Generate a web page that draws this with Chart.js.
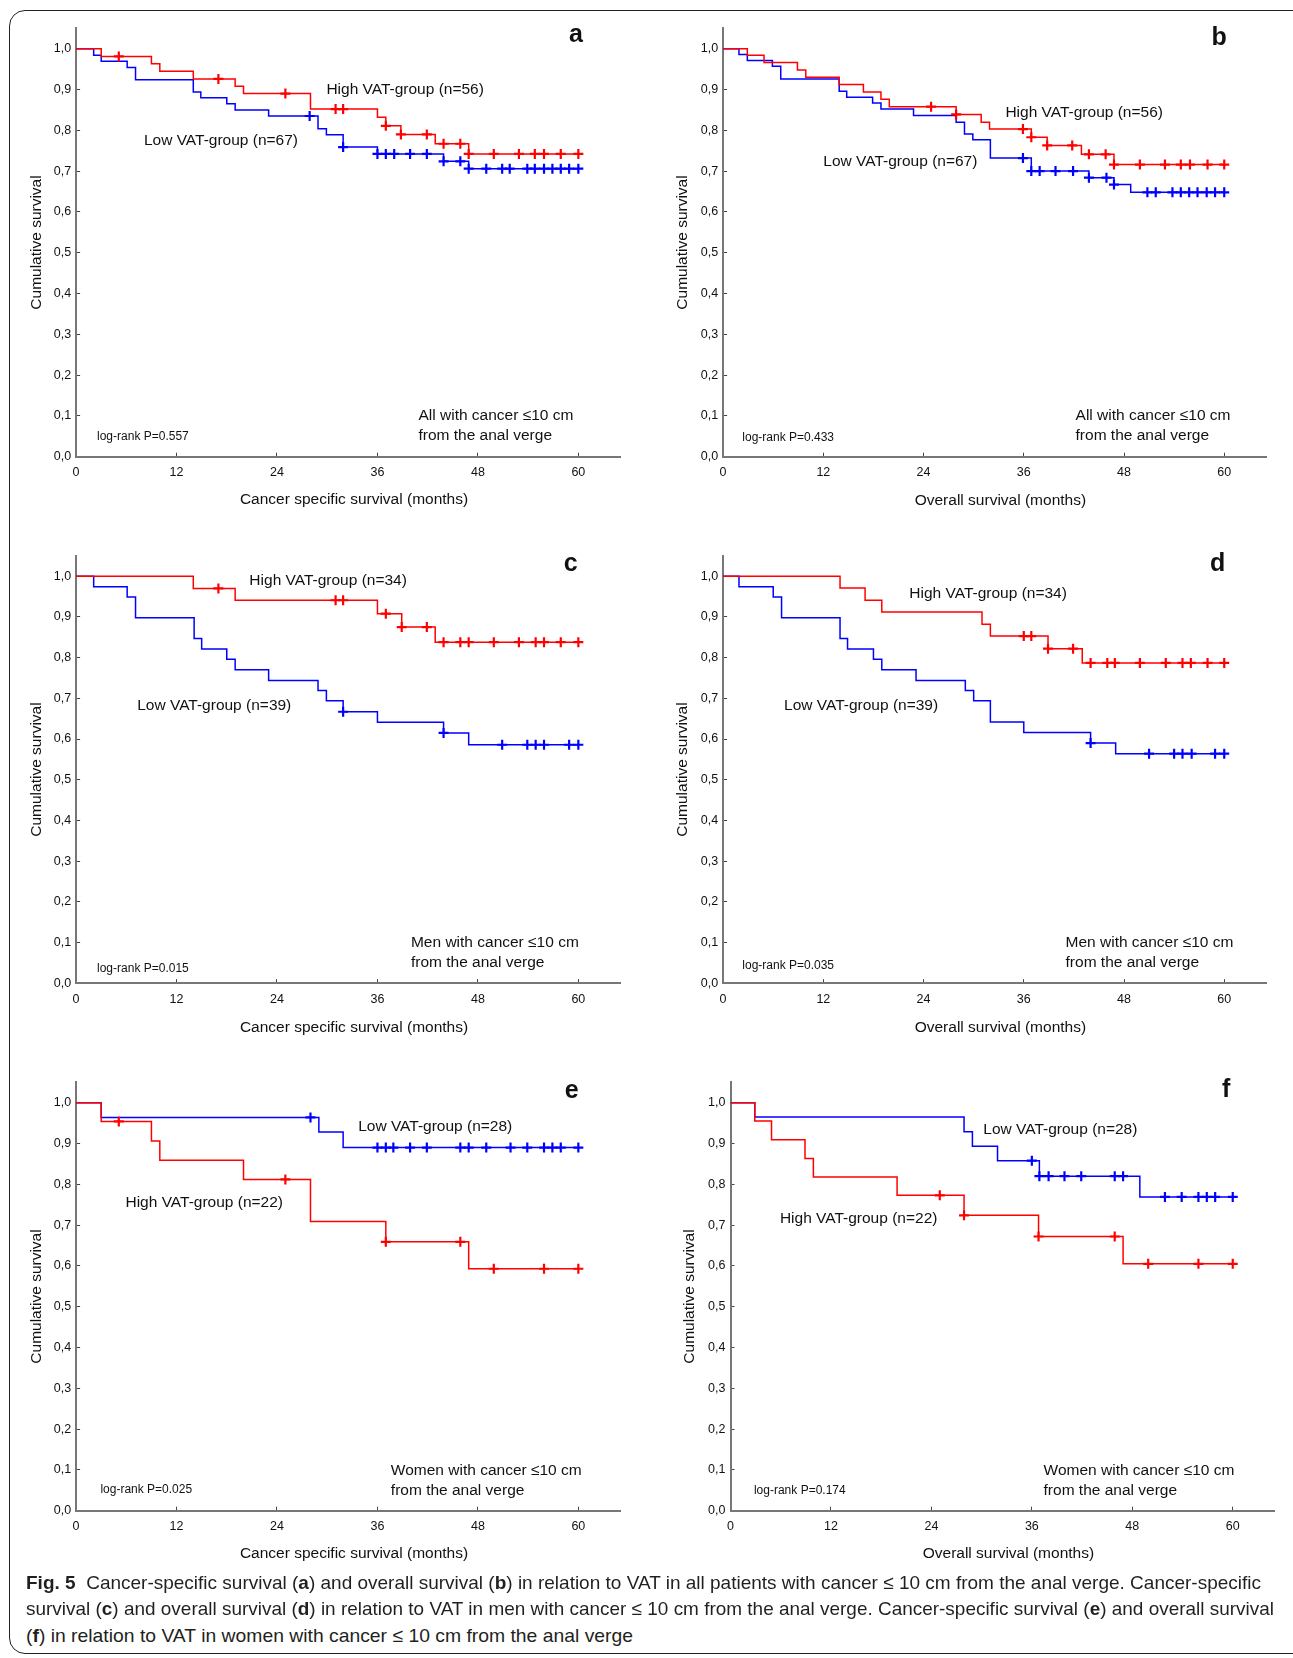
<!DOCTYPE html>
<html>
<head>
<meta charset="utf-8">
<script src="https://cdn.jsdelivr.net/npm/chart.js@4.4.1/dist/chart.umd.min.js"></script>
<style>
  body { margin: 0; background: #fff; width: 1293px; height: 1658px; position: relative; overflow: hidden; }
  .frame { position: absolute; left: 9px; top: 10px; width: 1340px; height: 1644px; border: 1.4px solid #222; border-radius: 16px; box-sizing: border-box; }
  canvas { position: absolute; }
  .capline { position: absolute; left: 26px; font-family: 'Liberation Sans Narrow', 'Liberation Sans', sans-serif; font-size: 19px; color: #231f20; white-space: nowrap; transform-origin: 0 50%; line-height: 22px; }
</style>
</head>
<body>
<div class="frame"></div>
<div id="charts"></div>
<div class="capline" style="top:1572px" data-w="1235"><b>Fig. 5</b>&nbsp; Cancer-specific survival (<b>a</b>) and overall survival (<b>b</b>) in relation to VAT in all patients with cancer ≤ 10 cm from the anal verge. Cancer-specific</div>
<div class="capline" style="top:1598px" data-w="1248">survival (<b>c</b>) and overall survival (<b>d</b>) in relation to VAT in men with cancer ≤ 10 cm from the anal verge. Cancer-specific survival (<b>e</b>) and overall survival</div>
<div class="capline" style="top:1625px" data-w="607">(<b>f</b>) in relation to VAT in women with cancer ≤ 10 cm from the anal verge</div>

<script>
// tick labels
var xTicks = [0, 12, 24, 36, 48, 60];
var yTicks = [0, 0.1, 0.2, 0.3, 0.4, 0.5, 0.6, 0.7, 0.8, 0.9, 1.0];

// a: cancer specific survival, all
var aHighT = [3, 9, 10, 14, 19, 20, 28, 36, 37, 38.8, 42.9, 46.9];
var aHighS = [0.981, 0.963, 0.945, 0.926, 0.908, 0.890, 0.852, 0.832, 0.811, 0.790, 0.767, 0.742];
var aHighC = [5.1, 17, 25, 31, 31.9, 37, 38.8, 41.9, 43.9, 45.9, 46.9, 49.9, 52.9, 54.8, 55.9, 57.9, 60];
var aLowT = [2.1, 3, 6.1, 7.1, 14, 14.9, 18, 19, 23, 28.9, 29.9, 31.9, 36, 43.9, 46.9];
var aLowS = [0.984, 0.969, 0.954, 0.924, 0.894, 0.880, 0.865, 0.850, 0.835, 0.804, 0.789, 0.759, 0.742, 0.724, 0.706];
var aLowC = [27.9, 31.9, 36, 37, 38, 39.9, 41.9, 43.9, 45.9, 46.9, 49, 50.9, 51.8, 53.9, 54.8, 55.9, 56.9, 57.9, 58.9, 60];

// b: overall survival, all
var bHighT = [2.9, 4.9, 8.9, 9.9, 13.9, 16.8, 18.9, 19.9, 27.9, 30.9, 31.9, 36.9, 38.8, 42.9, 46.8];
var bHighS = [0.984, 0.966, 0.948, 0.930, 0.912, 0.894, 0.876, 0.858, 0.839, 0.820, 0.803, 0.783, 0.763, 0.741, 0.716];
var bHighC = [24.9, 27.9, 35.9, 36.9, 38.8, 41.8, 43.8, 45.8, 46.8, 49.9, 52.9, 54.8, 55.9, 58, 60];
var bLowT = [1.9, 2.9, 5.9, 6.9, 13.9, 14.8, 17.9, 18.9, 22.8, 27.9, 28.9, 29.9, 32, 36.9, 43.8, 46.8, 48.8];
var bLowS = [0.986, 0.971, 0.957, 0.926, 0.896, 0.881, 0.867, 0.852, 0.836, 0.820, 0.791, 0.777, 0.732, 0.700, 0.684, 0.667, 0.648];
var bLowC = [35.9, 36.9, 37.9, 39.8, 41.9, 43.8, 45.9, 46.8, 50.8, 51.8, 53.8, 54.8, 55.8, 56.8, 57.9, 58.9, 60];

// c: cancer specific survival, men
var cHighT = [14, 19, 36, 38.9, 42.9];
var cHighS = [0.970, 0.941, 0.908, 0.875, 0.838];
var cHighC = [17, 31, 31.9, 37, 38.9, 41.9, 43.9, 45.9, 46.9, 49.9, 52.9, 54.9, 55.9, 57.9, 60];
var cLowT = [2.1, 6.1, 7.1, 14.1, 15, 18, 19, 23, 28.9, 29.9, 31.9, 36, 43.9, 46.9];
var cLowS = [0.974, 0.949, 0.898, 0.847, 0.821, 0.796, 0.770, 0.744, 0.719, 0.694, 0.667, 0.641, 0.615, 0.586];
var cLowC = [31.9, 43.9, 50.9, 53.9, 54.9, 55.9, 58.9, 60];

// d: overall survival, men
var dHighT = [14, 17, 19, 31, 32, 38.9, 43];
var dHighS = [0.971, 0.941, 0.912, 0.882, 0.853, 0.822, 0.787];
var dHighC = [36, 36.9, 38.9, 41.9, 44, 46, 46.9, 49.9, 53, 55, 56, 58, 60];
var dLowT = [1.9, 6, 7, 14, 14.9, 18, 19, 23.1, 29, 30, 32, 36, 44, 47];
var dLowS = [0.974, 0.949, 0.898, 0.847, 0.821, 0.796, 0.770, 0.744, 0.719, 0.694, 0.642, 0.616, 0.590, 0.564];
var dLowC = [44, 51, 54, 55, 56.1, 58.9, 60];

// e: cancer specific survival, women
var eHighT = [3, 9, 10, 20, 28, 37, 46.9];
var eHighS = [0.954, 0.906, 0.859, 0.812, 0.709, 0.659, 0.593];
var eHighC = [5.1, 25, 37, 45.9, 49.9, 55.9, 60];
var eLowT = [3, 29, 31.9];
var eLowS = [0.964, 0.928, 0.890];
var eLowC = [28, 36, 37, 37.9, 39.9, 41.9, 45.9, 46.9, 49, 51.9, 53.9, 55.9, 56.9, 57.9, 60];

// f: overall survival, women
var fHighT = [2.9, 4.9, 8.9, 9.9, 19.9, 27.9, 36.8, 46.9];
var fHighS = [0.955, 0.909, 0.863, 0.818, 0.773, 0.724, 0.672, 0.605];
var fHighC = [25, 27.9, 36.8, 45.9, 49.9, 55.9, 60];
var fLowT = [2.9, 27.9, 28.9, 31.9, 36.9, 48.9];
var fLowS = [0.965, 0.929, 0.893, 0.858, 0.820, 0.769];
var fLowC = [36, 36.9, 38, 39.9, 41.9, 45.9, 46.9, 51.9, 53.9, 55.9, 56.9, 57.9, 60];

var RED = "#ff0000";
var BLUE = "#0000ff";
var FONT = "'Liberation Sans', Arial, sans-serif";
var CSS = "Cancer specific survival (months)";
var OS = "Overall survival (months)";

// survival value of the step curve at time t
function survAt(t, times, surv) {
  var s = 1;
  for (var i = 0; i < times.length; i++) {
    if (times[i] <= t + 0.01) s = surv[i];
  }
  return s;
}

function stepPoints(times, surv, end) {
  var pts = [{ x: 0, y: 1 }];
  times.forEach(function (t, i) { pts.push({ x: t, y: surv[i] }); });
  pts.push({ x: end, y: surv[surv.length - 1] });
  return pts;
}

function censorPoints(cens, times, surv) {
  return cens.map(function (t) { return { x: t, y: survAt(t, times, surv) }; });
}

// page layout: area = [left, top, right, bottom] of each plot
var panels = [
  { letter: "a", area: [76.1, 28.3, 620.2, 456.7], yTitleX: 37, xTitleY: 500, xTitle: CSS,
    high: [aHighT, aHighS, aHighC], low: [aLowT, aLowS, aLowC],
    highLabel: ["High VAT-group (n=56)", 29.9, 0.899], lowLabel: ["Low VAT-group (n=67)", 8.1, 0.775],
    note: "All with cancer ≤10 cm", noteXY: [40.9, 0.101], p: "log-rank P=0.557", pXY: [2.5, 0.049], letterXY: [59.7, 1.034] },
  { letter: "b", area: [723.1, 28.3, 1266, 456.7], yTitleX: 683, xTitleY: 501, xTitle: OS,
    high: [bHighT, bHighS, bHighC], low: [bLowT, bLowS, bLowC],
    highLabel: ["High VAT-group (n=56)", 33.8, 0.842], lowLabel: ["Low VAT-group (n=67)", 12.0, 0.722],
    note: "All with cancer ≤10 cm", noteXY: [42.2, 0.101], p: "log-rank P=0.433", pXY: [2.3, 0.047], letterXY: [59.4, 1.026] },
  { letter: "c", area: [76.1, 555.9, 620.2, 983.2], yTitleX: 37, xTitleY: 1027.6, xTitle: CSS,
    high: [cHighT, cHighS, cHighC], low: [cLowT, cLowS, cLowC],
    highLabel: ["High VAT-group (n=34)", 20.7, 0.990], lowLabel: ["Low VAT-group (n=39)", 7.3, 0.681],
    note: "Men with cancer ≤10 cm", noteXY: [40.0, 0.099], p: "log-rank P=0.015", pXY: [2.5, 0.036], letterXY: [59.1, 1.031] },
  { letter: "d", area: [723.1, 555.9, 1266, 983.2], yTitleX: 683, xTitleY: 1027.6, xTitle: OS,
    high: [dHighT, dHighS, dHighC], low: [dLowT, dLowS, dLowC],
    highLabel: ["High VAT-group (n=34)", 22.3, 0.958], lowLabel: ["Low VAT-group (n=39)", 7.3, 0.683],
    note: "Men with cancer ≤10 cm", noteXY: [41.0, 0.099], p: "log-rank P=0.035", pXY: [2.3, 0.044], letterXY: [59.2, 1.031] },
  { letter: "e", area: [76.1, 1082.3, 620.2, 1510.7], yTitleX: 37, xTitleY: 1554.1, xTitle: CSS,
    high: [eHighT, eHighS, eHighC], low: [eLowT, eLowS, eLowC],
    highLabel: ["High VAT-group (n=22)", 5.9, 0.754], lowLabel: ["Low VAT-group (n=28)", 33.7, 0.940],
    note: "Women with cancer ≤10 cm", noteXY: [37.6, 0.098], p: "log-rank P=0.025", pXY: [2.9, 0.052], letterXY: [59.2, 1.028] },
  { letter: "f", area: [730.5, 1082.3, 1274.6, 1510.7], yTitleX: 690, xTitleY: 1554.1, xTitle: OS,
    high: [fHighT, fHighS, fHighC], low: [fLowT, fLowS, fLowC],
    highLabel: ["High VAT-group (n=22)", 5.9, 0.715], lowLabel: ["Low VAT-group (n=28)", 30.2, 0.933],
    note: "Women with cancer ≤10 cm", noteXY: [37.4, 0.098], p: "log-rank P=0.174", pXY: [2.8, 0.049], letterXY: [59.2, 1.031] }
];

// texts inside the plots, placed on data coordinates (x title: px below the axis)
var panelText = {
  id: "panelText",
  afterDraw: function (chart, args, opts) {
    var ctx = chart.ctx;
    var x = chart.scales.x, y = chart.scales.y;
    ctx.save();
    ctx.fillStyle = "#111";
    ctx.textBaseline = "middle";
    opts.items.forEach(function (it) {
      ctx.font = it.font;
      ctx.textAlign = it.align || "left";
      var py = it.below != null ? y.getPixelForValue(0) + it.below : y.getPixelForValue(it.y);
      ctx.fillText(it.text, x.getPixelForValue(it.x), py);
    });
    ctx.restore();
  }
};

var holder = document.getElementById("charts");

panels.forEach(function (p) {
  var L = p.area[0], T = p.area[1], R = p.area[2], B = p.area[3];
  var cl = Math.floor(L - 60), ct = Math.floor(T - 10);
  var g = { yw: L - cl, xh: 0 };
  var w = Math.ceil(R - cl + 14), h = Math.ceil(B - ct + 64);
  g.xh = h - (B - ct);

  var canvas = document.createElement("canvas");
  canvas.width = w; canvas.height = h;
  canvas.style.left = cl + "px"; canvas.style.top = ct + "px";
  canvas.style.width = w + "px"; canvas.style.height = h + "px";
  holder.appendChild(canvas);

  var titleSize = 15.5, titleLH = titleSize * 1.2;
  var endX = 60;
  var items = [
    { text: p.highLabel[0], x: p.highLabel[1], y: p.highLabel[2], font: "15.5px " + FONT },
    { text: p.lowLabel[0], x: p.lowLabel[1], y: p.lowLabel[2], font: "15.5px " + FONT },
    { text: p.note, x: p.noteXY[0], y: p.noteXY[1], font: "15.5px " + FONT },
    { text: "from the anal verge", x: p.noteXY[0], y: p.noteXY[1] - 0.049, font: "15.5px " + FONT },
    { text: p.p, x: p.pXY[0], y: p.pXY[1], font: "12px " + FONT },
    { text: p.letter, x: p.letterXY[0], y: p.letterXY[1], font: "bold 25px " + FONT, align: "center" },
    { text: p.xTitle, x: 33.2, below: p.xTitleY - B, font: titleSize + "px " + FONT, align: "center" }
  ];

  var options = {
    responsive: false,
    animation: false,
    devicePixelRatio: 1,
    layout: { autoPadding: false, padding: { left: 0, top: T - ct, right: w - (R - cl), bottom: 0 } },
    plugins: { legend: { display: false }, tooltip: { enabled: false }, panelText: { items: items } },
    scales: {
      x: {
        type: "linear", min: 0, max: 65,
        afterBuildTicks: function (s) { s.ticks = xTicks.map(function (v) { return { value: v }; }); },
        afterFit: function (s) { s.height = g.xh; s.paddingLeft = 0; s.paddingRight = 0; },
        grid: { drawOnChartArea: false, drawTicks: true, tickLength: -4, color: "#444", lineWidth: 1 },
        border: { color: "#777", width: 2 },
        ticks: { color: "#111", font: { size: 12.5, family: FONT }, padding: 12.5, maxRotation: 0, autoSkip: false }
      },
      y: {
        type: "linear", min: 0, max: 1.05,
        afterBuildTicks: function (s) { s.ticks = yTicks.map(function (v) { return { value: v }; }); },
        afterFit: function (s) { s.width = g.yw; s.paddingTop = 0; s.paddingBottom = 0; },
        grid: { drawOnChartArea: false, drawTicks: true, tickLength: -4, color: "#444", lineWidth: 1 },
        border: { color: "#777", width: 2 },
        ticks: { color: "#111", font: { size: 12.5, family: FONT }, padding: 9,
                 callback: function (v) { return v.toFixed(1).replace(".", ","); } },
        title: { display: true, text: "Cumulative survival", color: "#111", font: { size: titleSize, family: FONT },
                 padding: { top: p.yTitleX - cl - titleLH / 2, bottom: 0 } }
      }
    }
  };

  var chart = new Chart(canvas.getContext("2d"), {
    type: "scatter",
    data: {
      datasets: [
        { data: censorPoints(p.high[2], p.high[0], p.high[1]), borderColor: RED, backgroundColor: RED,
          pointStyle: "cross", pointRadius: 5, borderWidth: 2.2, showLine: false },
        { data: stepPoints(p.high[0], p.high[1], endX), borderColor: RED, borderWidth: 1.5,
          stepped: true, showLine: true, pointRadius: 0 },
        { data: censorPoints(p.low[2], p.low[0], p.low[1]), borderColor: BLUE, backgroundColor: BLUE,
          pointStyle: "cross", pointRadius: 5, borderWidth: 2.2, showLine: false },
        { data: stepPoints(p.low[0], p.low[1], endX), borderColor: BLUE, borderWidth: 1.5,
          stepped: true, showLine: true, pointRadius: 0 }
      ]
    },
    options: options,
    plugins: [panelText]
  });

  // nudge the layout so the plot box sits where the original has it
  for (var k = 0; k < 3; k++) {
    var ca = chart.chartArea;
    var dTop = (T - ct) - ca.top;
    var dBottom = (B - ct) - ca.bottom;
    var dLeft = (L - cl) - ca.left;
    if (Math.abs(dTop) + Math.abs(dBottom) + Math.abs(dLeft) < 0.1) break;
    options.layout.padding.top += dTop;
    g.xh -= dBottom;
    g.yw += dLeft;
    chart.update();
  }
});

// fit caption lines to the widths of the original
document.querySelectorAll(".capline").forEach(function (el) {
  var w = el.getBoundingClientRect().width;
  el.style.transform = "scaleX(" + (+el.dataset.w / w) + ")";
});
</script>
</body>
</html>
